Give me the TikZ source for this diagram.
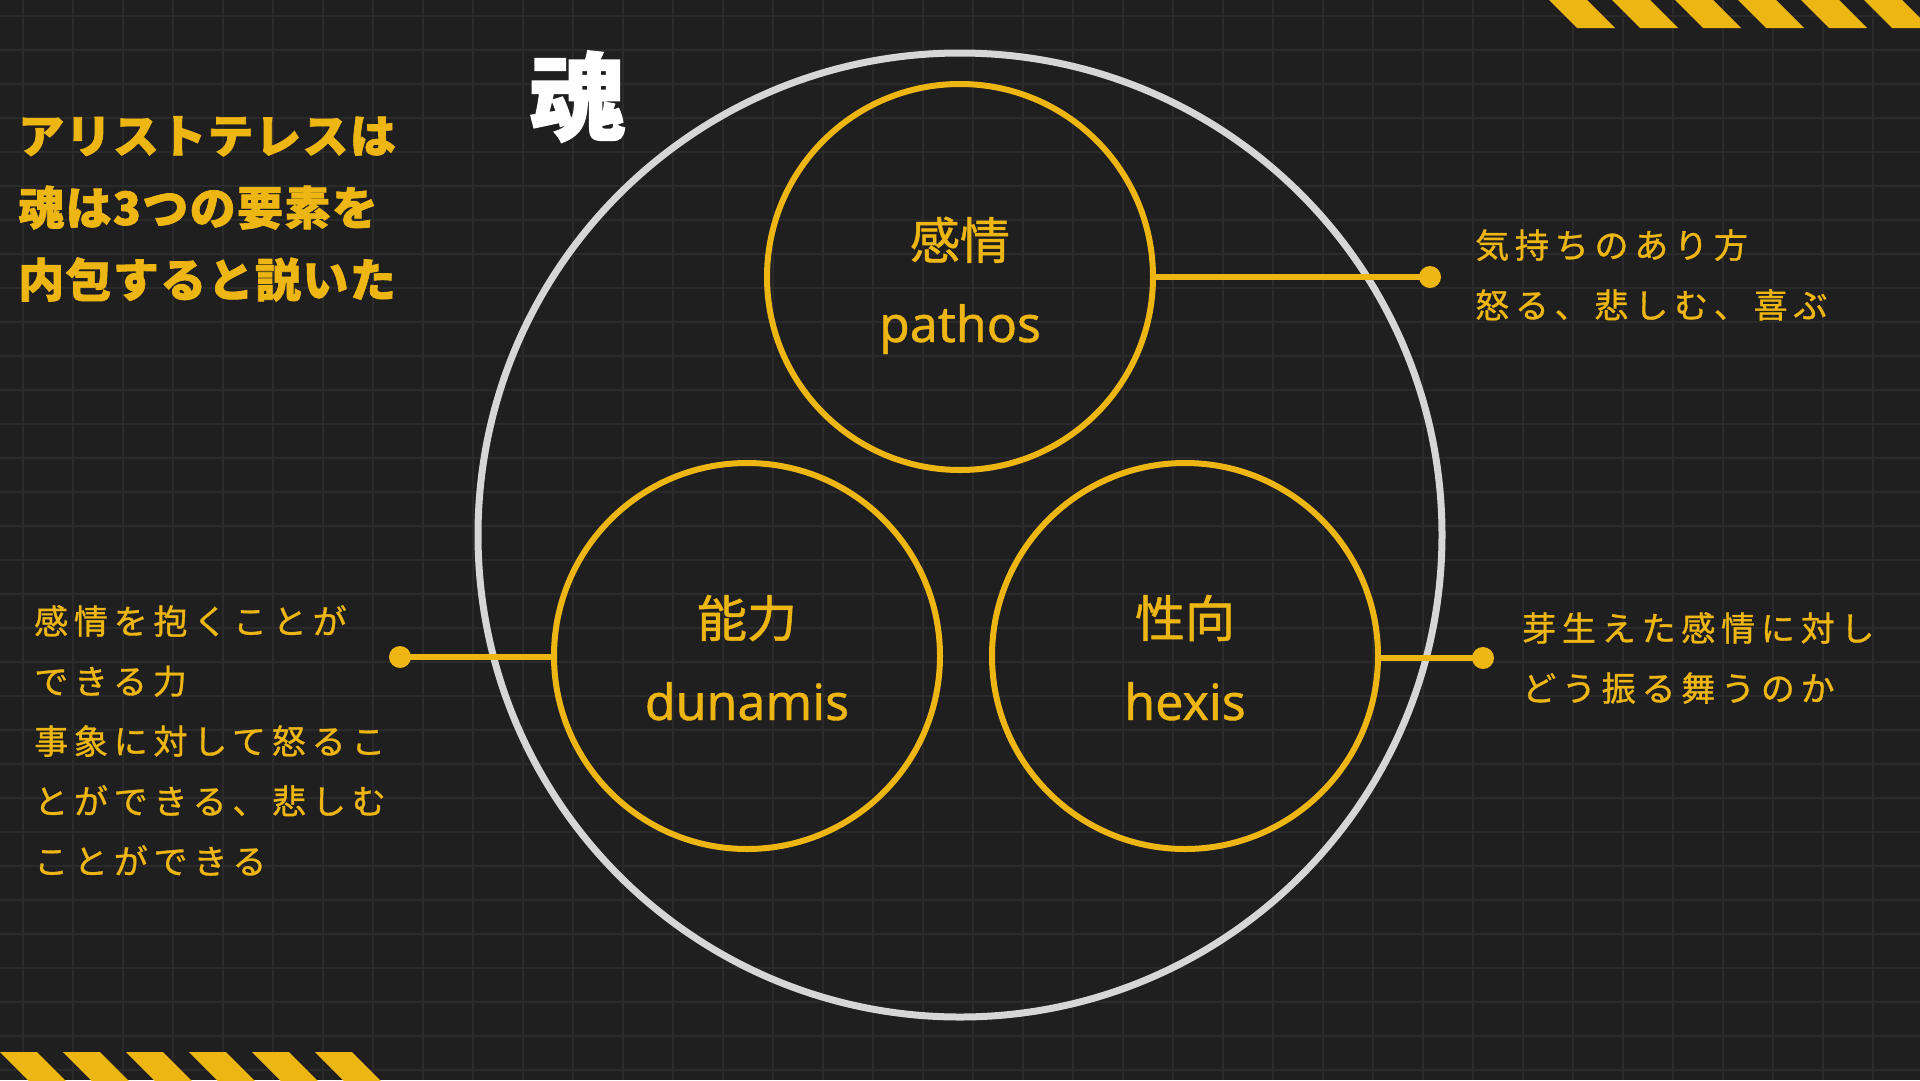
\documentclass[tikz,border=0pt]{standalone}
\usepackage{fontspec}
\newfontfamily\jpfont[FakeBold=1]{Noto Sans CJK JP}
\newfontfamily\jpbold{Noto Sans CJK JP}
\newfontfamily\jpsp[LetterSpace=17,FakeBold=1]{Noto Sans CJK JP}
\newfontfamily\jptitle[LetterSpace=3,FakeBold=1.5]{Noto Sans CJK JP}
\newfontfamily\latfont[FakeBold=0.8]{Noto Sans}
\definecolor{bg}{HTML}{1F1F1F}
\definecolor{gridc}{HTML}{2A2A2A}
\definecolor{ylw}{HTML}{EEB612}
\definecolor{gry}{HTML}{D6D6D6}
\tikzset{
  ring/.style={circle, draw=ylw, line width=6pt, minimum size=386pt, inner sep=0pt},
  soulring/.style={circle, draw=gry, line width=7pt, minimum size=964pt, inner sep=0pt},
  dotnode/.style={circle, fill=ylw, minimum size=22pt, inner sep=0pt},
  conn/.style={draw=ylw, line width=6pt},
  gridline/.style={draw=gridc, line width=1.6pt},
  stripe/.style={fill=ylw, draw=none},
  jpname/.style={text=ylw, inner sep=0pt, anchor=base, font=\fontsize{50}{50}\selectfont\jpfont},
  latname/.style={text=ylw, inner sep=0pt, anchor=base, font=\fontsize{50}{50}\selectfont\latfont},
  body/.style={text=ylw, inner sep=0pt, anchor=base west, font=\fontsize{34}{34}\selectfont\jpsp},
  titletext/.style={text=ylw, inner sep=0pt, anchor=base west, font=\fontsize{46}{46}\selectfont\jptitle\bfseries},
}
\begin{document}
\begin{tikzpicture}[x=1pt,y=-1pt]
\useasboundingbox (0,0) rectangle (1920,1080);
\fill[bg] (0,0) rectangle (1920,1080);
% background grid
\foreach \gx in {23,73,...,1923} \draw[gridline] (\gx,0) -- (\gx,1080);
\foreach \gy in {16,50,...,1080} \draw[gridline] (0,\gy) -- (1920,\gy);
% hazard stripes
\begin{scope}
\clip (0,0) rectangle (1920,1080);
\foreach \k in {0,...,6} {
  \fill[stripe] (1547+63*\k,-2) -- (1585+63*\k,-2) -- (1615+63*\k,28) -- (1577+63*\k,28) -- cycle;
}
\foreach \k in {0,...,5} {
  \fill[stripe] (63*\k,1052) -- (37+63*\k,1052) -- (67+63*\k,1082) -- (30+63*\k,1082) -- cycle;
}
\end{scope}
% soul circle
\node[soulring] (soul) at (960,535) {};
% element circles
\node[ring] (pathos) at (960,277) {};
\node[ring] (dunamis) at (747,656) {};
\node[ring] (hexis) at (1185,656) {};
% dots
\node[dotnode] (dotp) at (1430,277) {};
\node[dotnode] (dotd) at (400,657) {};
\node[dotnode] (doth) at (1483,658) {};
% connectors
\draw[conn] (pathos.east) -- (dotp.center);
\draw[conn] (dunamis.west |- dotd) -- (dotd.center);
\draw[conn] (hexis.east |- doth) -- (doth.center);
% circle labels
\node[jpname] (pathosjp) at (960,259) {感情};
\node[latname] (pathosen) at (960,342) {pathos};
\node[jpname] (dunamisjp) at (747,637) {能力};
\node[latname] (dunamisen) at (747,720) {dunamis};
\node[jpname] (hexisjp) at (1185,637) {性向};
\node[latname] (hexisen) at (1185,720) {hexis};
% soul title
\node[text=white, inner sep=0pt, anchor=base, font=\fontsize{96}{96}\selectfont\jptitle\bfseries] (soultitle) at (577,133) {魂};
% left title
\node[titletext] (title1) at (18,153) {アリストテレスは};
\node[titletext] (title2) at (18,225) {魂は3つの要素を};
\node[titletext] (title3) at (18,297) {内包すると説いた};
% right top text
\node[body] (rt1) at (1475,258) {気持ちのあり方};
\node[body] (rt2) at (1475,318) {怒る、悲しむ、喜ぶ};
% right bottom text
\node[body] (rb1) at (1522,641) {芽生えた感情に対し};
\node[body] (rb2) at (1522,701) {どう振る舞うのか};
% left text
\node[body] (lt1) at (34,634) {感情を抱くことが};
\node[body] (lt2) at (34,694) {できる力};
\node[body] (lt3) at (34,754) {事象に対して怒るこ};
\node[body] (lt4) at (34,814) {とができる、悲しむ};
\node[body] (lt5) at (34,874) {ことができる};
\end{tikzpicture}
\end{document}
